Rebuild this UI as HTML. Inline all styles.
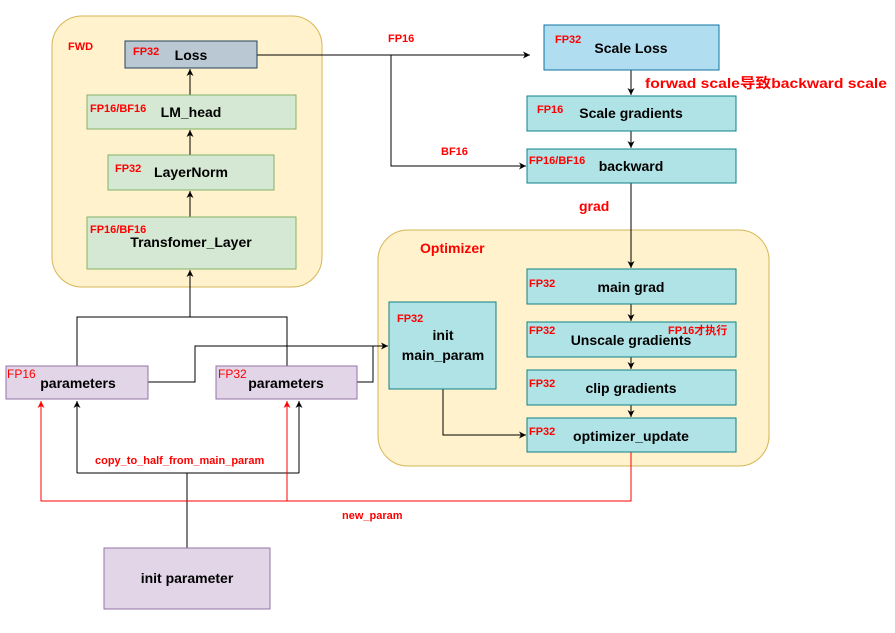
<!DOCTYPE html>
<html><head><meta charset="utf-8"><style>body{margin:0;background:#fff}svg{display:block}text{font-family:"Liberation Sans","Noto Sans CJK SC",sans-serif}</style></head><body>
<svg width="895" height="633" viewBox="0 0 895 633" xmlns="http://www.w3.org/2000/svg">
<defs><marker id="a" markerWidth="8" markerHeight="8" refX="7" refY="4" orient="auto" markerUnits="userSpaceOnUse"><path d="M0,0.5 L7,4 L0,7.5 L2,4 z" fill="#000"/></marker>
<marker id="r" markerWidth="8" markerHeight="8" refX="7" refY="4" orient="auto" markerUnits="userSpaceOnUse"><path d="M0,0.5 L7,4 L0,7.5 L2,4 z" fill="#f00"/></marker></defs>
<rect x="52" y="16" width="270" height="271" rx="30" fill="#fff2cc" stroke="#d6b656"/>
<rect x="378" y="230" width="391" height="236" rx="30" fill="#fff2cc" stroke="#d6b656"/>
<text x="68" y="50" font-size="11" font-weight="bold" fill="#f00">FWD</text>
<text x="420" y="253" font-size="14" font-weight="bold" fill="#f00">Optimizer</text>
<g stroke="#000" fill="none" stroke-width="1">
<path d="M257,55 H530" marker-end="url(#a)"/>
<path d="M391,55 V166 H526" marker-end="url(#a)"/>
<path d="M190,217 V191" marker-end="url(#a)"/>
<path d="M190,155 V130" marker-end="url(#a)"/>
<path d="M190,95 V69" marker-end="url(#a)"/>
<path d="M631,70 V95" marker-end="url(#a)"/>
<path d="M631,131 V148" marker-end="url(#a)"/>
<path d="M631,183 V268" marker-end="url(#a)"/>
<path d="M631,304 V321" marker-end="url(#a)"/>
<path d="M631,357 V369" marker-end="url(#a)"/>
<path d="M631,405 V417" marker-end="url(#a)"/>
<path d="M77,366 V317 H287 V366"/>
<path d="M190,317 V270" marker-end="url(#a)"/>
<path d="M148,382 H195 V346 H388" marker-end="url(#a)"/>
<path d="M357,382 H373 V346"/>
<path d="M443,389 V435 H526" marker-end="url(#a)"/>
<path d="M187,548 V473"/>
<path d="M77,473 H299"/>
<path d="M77,473 V401" marker-end="url(#a)"/>
<path d="M299,473 V401" marker-end="url(#a)"/>
</g>
<g stroke="#f00" fill="none">
<path d="M631,452 V501 H41 V401" marker-end="url(#r)"/>
<path d="M287,501 V401" marker-end="url(#r)"/>
</g>
<rect x="125" y="41" width="132" height="27" fill="#bac8d3" stroke="#23445d"/>
<rect x="87" y="95" width="209" height="34" fill="#d5e8d4" stroke="#82b366"/>
<rect x="108" y="155" width="166" height="35" fill="#d5e8d4" stroke="#82b366"/>
<rect x="87" y="217" width="209" height="52" fill="#d5e8d4" stroke="#82b366"/>
<rect x="544" y="25" width="175" height="45" fill="#b1ddf0" stroke="#10739e"/>
<g fill="#b0e3e6" stroke="#0e8088">
<rect x="527" y="96" width="209" height="35"/>
<rect x="527" y="149" width="209" height="34"/>
<rect x="527" y="269" width="209" height="35"/>
<rect x="527" y="322" width="209" height="35"/>
<rect x="527" y="370" width="209" height="35"/>
<rect x="527" y="418" width="209" height="34"/>
<rect x="389" y="302" width="107" height="87"/>
</g>
<g fill="#e1d5e7" stroke="#9673a6">
<rect x="6" y="366" width="142" height="33"/>
<rect x="216" y="366" width="141" height="33"/>
<rect x="104" y="548" width="166" height="61"/>
</g>
<g font-size="14" font-weight="bold" fill="#000" text-anchor="middle">
<text x="191" y="60">Loss</text>
<text x="191" y="117">LM_head</text>
<text x="191" y="177">LayerNorm</text>
<text x="191" y="247">Transfomer_Layer</text>
<text x="631" y="53">Scale Loss</text>
<text x="631" y="118">Scale gradients</text>
<text x="631" y="171">backward</text>
<text x="631" y="292">main grad</text>
<text x="631" y="345">Unscale gradients</text>
<text x="631" y="393">clip gradients</text>
<text x="631" y="441">optimizer_update</text>
<text x="443" y="340">init</text>
<text x="443" y="360">main_param</text>
<text x="78" y="388">parameters</text>
<text x="286" y="388">parameters</text>
<text x="187" y="583">init parameter</text>
</g>
<g font-size="11" font-weight="bold" fill="#f00">
<text x="133" y="55">FP32</text>
<text x="90" y="112">FP16/BF16</text>
<text x="115" y="172">FP32</text>
<text x="90" y="233">FP16/BF16</text>
<text x="555" y="43">FP32</text>
<text x="537" y="113">FP16</text>
<text x="529" y="164">FP16/BF16</text>
<text x="529" y="287">FP32</text>
<text x="529" y="334">FP32</text>
<text x="668" y="334">FP16才执行</text>
<text x="529" y="387">FP32</text>
<text x="529" y="435">FP32</text>
<text x="397" y="322">FP32</text>
<text x="388" y="42">FP16</text>
<text x="441" y="155">BF16</text>
<text x="95" y="464">copy_to_half_from_main_param</text>
<text x="342" y="519">new_param</text>
</g>
<g font-size="12" fill="#f00"><text x="7" y="378">FP16</text><text x="218" y="378">FP32</text></g>
<text x="645" y="88" font-size="14" font-weight="bold" fill="#f00" textLength="242" lengthAdjust="spacingAndGlyphs">forwad scale导致backward scale</text>
<text x="579" y="211" font-size="14" font-weight="bold" fill="#f00">grad</text>
</svg>
</body></html>
